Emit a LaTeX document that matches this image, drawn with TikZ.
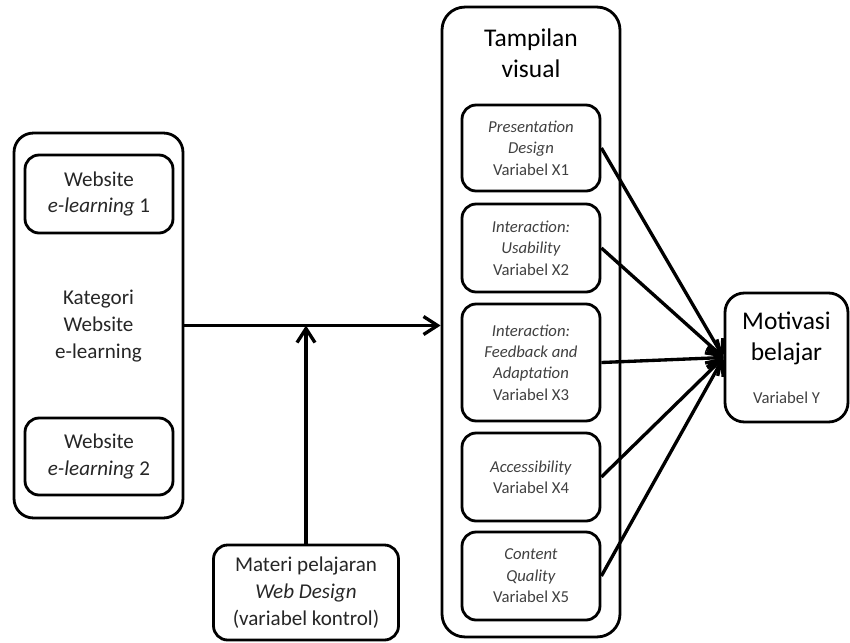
\documentclass[tikz,border=0pt]{standalone}
\usepackage{fontspec}
\setmainfont{Carlito}
\usepackage{tikz}
\usetikzlibrary{positioning, arrows.meta}

\tikzset{
  kotak/.style={draw, line width=1.6pt, rounded corners=8pt, align=center, inner sep=2pt},
  panah/.style={line width=1.9pt, -{Straight Barb[length=2.8mm,width=3.6mm]}},
  kecil/.style={align=center, font=\fontsize{9.5}{12.2}\selectfont, text=black!75},
  sedang/.style={align=center, font=\fontsize{12}{15.3}\selectfont, text=black!85},
  besar/.style={align=center, font=\fontsize{14.5}{17.5}\selectfont, text=black},
}

\begin{document}
\begin{tikzpicture}[x=0.02cm, y=-0.02cm]
        \useasboundingbox (0,0) rectangle (850,643);
        % Kotak kategori website e-learning
        \node[kotak, rounded corners=11pt, minimum width=3.38cm, minimum height=7.7cm] (kategori) at (98.5,325.5) {};
        \node[kotak, sedang, minimum width=2.96cm, minimum height=1.56cm] (web1) at (99,194) {Website\\\textit{e-learning} 1};
        \node[kotak, sedang, minimum width=2.96cm, minimum height=1.54cm] (web2) at (99,456.5) {Website\\\textit{e-learning} 2};
        \node[sedang] (katlabel) at (98.5,326) {Kategori\\Website\\e-learning};
        % Kotak tampilan visual dengan lima variabel X
        \node[kotak, rounded corners=13pt, minimum width=3.56cm, minimum height=12.6cm] (tampilan) at (531,322) {};
        \node[besar] (judul) at (531,53) {Tampilan\\visual};
        \foreach \n/\y/\h/\teks in {
            x1/148/1.72/{\textit{Presentation}\\\textit{Design}\\Variabel X1},
            x2/248/1.76/{\textit{Interaction:}\\\textit{Usability}\\Variabel X2},
            x3/362.5/2.34/{\textit{Interaction:}\\\textit{Feedback and}\\\textit{Adaptation}\\Variabel X3},
            x4/477/1.76/{\textit{Accessibility}\\Variabel X4},
            x5/576/1.76/{\textit{Content}\\\textit{Quality}\\Variabel X5}} {
            \node[kotak, kecil, minimum width=2.76cm, minimum height=\h cm] (\n) at (531,\y) {\teks};
        }
        % Kotak motivasi belajar
        \node[kotak, rounded corners=11pt, minimum width=2.46cm, minimum height=2.58cm] (motivasi) at (786.5,357.5) {};
        \node[besar] (motlabel) at (786.5,338) {Motivasi\\belajar};
        \node[kecil] (vary) at (786.5,398) {Variabel Y};
        % Variabel kontrol
        \node[kotak, sedang, minimum width=3.7cm, minimum height=1.9cm] (materi) at (306,592.5) {Materi pelajaran\\\textit{Web Design}\\(variabel kontrol)};
        % Panah
        \draw[panah] (kategori.east) -- (kategori.east -| tampilan.west);
        \coordinate (temu) at (materi.north |- kategori.east);
        \draw[panah] (materi.north) -- (temu);
        \foreach \n in {x1,x2,x3,x4,x5} {
            \draw[panah] (\n.east) -- (motivasi.west);
        }
    \end{tikzpicture}
\end{document}
